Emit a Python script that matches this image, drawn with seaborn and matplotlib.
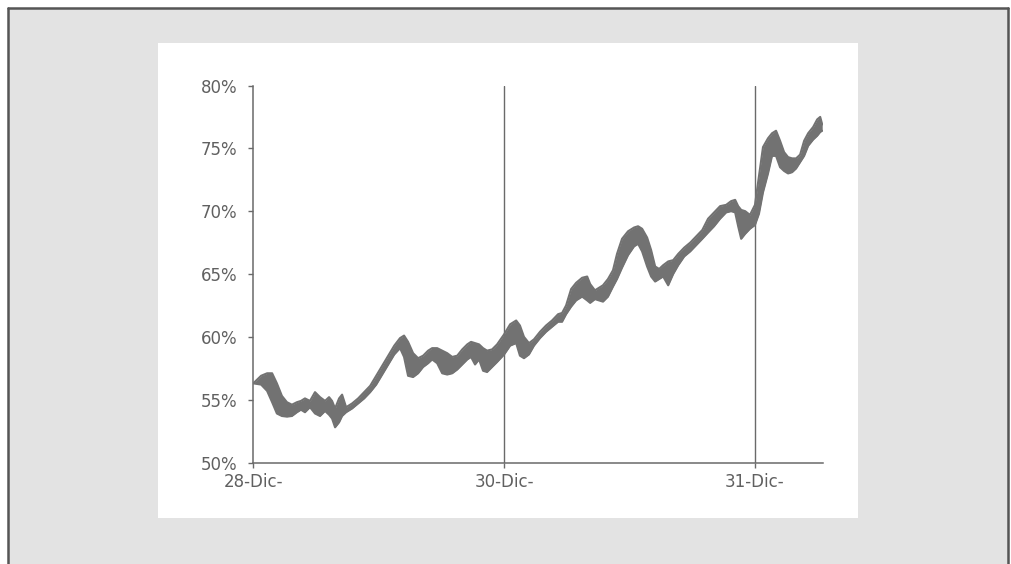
import matplotlib
matplotlib.use("Agg")
import matplotlib.pyplot as plt
from matplotlib.patches import Rectangle
from matplotlib.lines import Line2D
from matplotlib.ticker import FuncFormatter
import seaborn as sns
import pandas as pd

# Session position (1.0 = one trading day) and the two bounds of the ratio, in %
position = [
    0.000, 0.031, 0.055, 0.075, 0.094, 0.114, 0.134, 0.154, 0.174, 0.190,
    0.206, 0.226, 0.246, 0.266, 0.286, 0.302, 0.314, 0.326, 0.342, 0.354,
    0.370, 0.394, 0.418, 0.442, 0.466, 0.490, 0.514, 0.538, 0.562, 0.585,
    0.601, 0.617, 0.637, 0.657, 0.677, 0.697, 0.713, 0.733, 0.753, 0.773,
    0.793, 0.813, 0.833, 0.853, 0.868, 0.884, 0.900, 0.916, 0.932, 0.952,
    0.972, 1.000, 1.024, 1.048, 1.063, 1.079, 1.099, 1.119, 1.143, 1.167,
    1.191, 1.215, 1.231, 1.247, 1.267, 1.287, 1.311, 1.331, 1.343, 1.362,
    1.378, 1.394, 1.414, 1.434, 1.450, 1.470, 1.494, 1.518, 1.534, 1.550,
    1.570, 1.586, 1.602, 1.618, 1.634, 1.654, 1.674, 1.694, 1.718, 1.742,
    1.766, 1.790, 1.813, 1.837, 1.861, 1.885, 1.905, 1.921, 1.933, 1.945,
    1.961, 1.980, 2.000, 2.016, 2.032, 2.052, 2.068, 2.084, 2.100, 2.116,
    2.132, 2.148, 2.164, 2.180, 2.196, 2.212, 2.232, 2.248, 2.260, 2.268,
]
upper = [
    56.3, 56.9, 57.1, 57.1, 56.3, 55.3, 54.8, 54.6, 54.8, 54.9,
    55.1, 54.9, 55.6, 55.2, 54.9, 55.2, 54.9, 54.3, 55.1, 55.4,
    54.4, 54.7, 55.1, 55.6, 56.1, 56.9, 57.7, 58.5, 59.3, 59.9,
    60.1, 59.6, 58.7, 58.3, 58.5, 58.9, 59.1, 59.1, 58.9, 58.7,
    58.4, 58.5, 59.0, 59.4, 59.6, 59.5, 59.4, 59.1, 58.9, 59.0,
    59.4, 60.2, 61.0, 61.3, 60.9, 60.0, 59.5, 59.8, 60.4, 60.9,
    61.3, 61.8, 61.9, 62.5, 63.8, 64.3, 64.7, 64.8, 64.2, 63.7,
    63.9, 64.1, 64.6, 65.3, 66.6, 67.8, 68.4, 68.7, 68.8, 68.6,
    67.9, 66.9, 65.6, 65.4, 65.7, 66.0, 66.1, 66.6, 67.1, 67.5,
    68.0, 68.5, 69.4, 69.9, 70.4, 70.5, 70.8, 70.9, 70.4, 70.1,
    70.0, 69.7, 70.5, 72.8, 75.1, 75.8, 76.2, 76.4, 75.6, 74.7,
    74.3, 74.2, 74.2, 74.5, 75.6, 76.2, 76.7, 77.3, 77.5, 76.9,
]
lower = [
    56.3, 56.2, 55.7, 54.8, 53.9, 53.7, 53.65, 53.7, 54.0, 54.2,
    54.0, 54.4, 53.9, 53.7, 54.1, 53.8, 53.5, 52.8, 53.2, 53.7,
    54.0, 54.3, 54.7, 55.1, 55.6, 56.2, 57.0, 57.8, 58.6, 59.1,
    58.4, 56.9, 56.8, 57.1, 57.6, 57.9, 58.2, 57.9, 57.1, 57.0,
    57.1, 57.4, 57.8, 58.2, 58.4, 57.8, 58.2, 57.3, 57.2, 57.6,
    58.0, 58.6, 59.3, 59.5, 58.5, 58.3, 58.6, 59.3, 59.9, 60.4,
    60.8, 61.2, 61.2, 61.8, 62.4, 62.9, 63.2, 62.9, 62.7, 63.0,
    62.9, 62.8, 63.2, 64.0, 64.6, 65.5, 66.5, 67.2, 67.4, 66.8,
    65.6, 64.8, 64.4, 64.6, 64.8, 64.1, 65.0, 65.7, 66.4, 66.8,
    67.3, 67.8, 68.3, 68.8, 69.4, 69.9, 70.0, 69.9, 68.8, 67.8,
    68.2, 68.6, 68.9, 69.8, 71.5, 73.0, 74.4, 74.4, 73.5, 73.2,
    73.0, 73.1, 73.4, 73.9, 74.4, 75.2, 75.7, 76.0, 76.3, 76.4,
]
tick_positions = [0, 1, 2]
tick_labels = ["28-Dic-", "30-Dic-", "31-Dic-"]
y_ticks = [50, 55, 60, 65, 70, 75, 80]

df = pd.DataFrame({"pos": position, "upper": upper, "lower": lower})

sns.set_theme(style="white")
plt.rcParams["font.family"] = ["DejaVu Sans"]

W, H = 1011, 564
fig = plt.figure(figsize=(W / 100, H / 100), dpi=100, facecolor="white")

def fx(px):
    return px / W

def fy(py):
    return 1 - py / H

# grey page with dark frame, white chart panel on top
fig.add_artist(Rectangle((fx(8), 0), fx(1000), fy(8), transform=fig.transFigure,
                         facecolor="#e3e3e3", edgecolor="none", zorder=0))
for xs, ys in [([8, 1008], [8, 8]), ([8, 8], [8, 564]), ([1008, 1008], [8, 564])]:
    fig.add_artist(Line2D([fx(v) for v in xs], [fy(v) for v in ys],
                          transform=fig.transFigure, color="#555555", lw=1.8, zorder=1))
fig.add_artist(Rectangle((fx(158), fy(518)), fx(700), (518 - 43) / H,
                         transform=fig.transFigure, facecolor="white",
                         edgecolor="none", zorder=1))

ax = fig.add_axes([fx(253.3), fy(462.5), fx(822.7 - 253.3), (462.5 - 85.5) / H])
ax.set_facecolor("none")
ax.set_zorder(2)

band_color = "#727272"
ax.fill_between(df["pos"], df["lower"], df["upper"], color=band_color, lw=0, zorder=3)
sns.lineplot(data=df, x="pos", y="upper", ax=ax, color=band_color, lw=1.5, zorder=3)
sns.lineplot(data=df, x="pos", y="lower", ax=ax, color=band_color, lw=1.5, zorder=3)

axis_color = "#6a6a6a"
text_color = "#606060"
ax.set_xlim(0, 2.27)
ax.set_ylim(50, 80)
ax.set_xticks(tick_positions)
ax.set_xticklabels(tick_labels)
ax.set_yticks(y_ticks)
ax.yaxis.set_major_formatter(FuncFormatter(lambda v, _: f"{v:.0f}%"))
ax.set_xlabel("")
ax.set_ylabel("")

for x in tick_positions[1:]:
    ax.axvline(x, color=axis_color, lw=1.0, zorder=2)

for side in ["top", "right"]:
    ax.spines[side].set_visible(False)
for side in ["left", "bottom"]:
    ax.spines[side].set_color(axis_color)
    ax.spines[side].set_linewidth(1.1)

ax.tick_params(axis="both", which="major", direction="out", length=3.5, width=1.0,
               color=axis_color, labelcolor=text_color, labelsize=12)
ax.tick_params(axis="y", pad=8, left=True)
ax.tick_params(axis="x", pad=4, bottom=True)

fig.savefig("out.png", dpi=100, facecolor="white")
